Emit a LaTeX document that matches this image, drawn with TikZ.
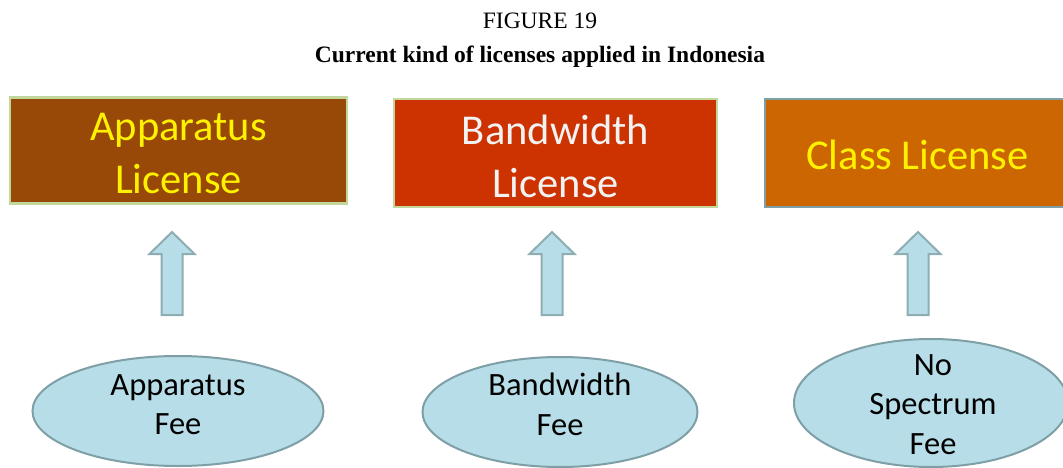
\documentclass[tikz,border=0pt]{standalone}
\usepackage{fontspec}
\setmainfont{Liberation Serif}
\newfontfamily\calibrifont{Carlito}
\usetikzlibrary{shapes.geometric}
\definecolor{boxA}{HTML}{984807}
\definecolor{boxB}{HTML}{CC3300}
\definecolor{boxC}{HTML}{CC6600}
\definecolor{greenedge}{HTML}{C3D69B}
\definecolor{blueedge}{HTML}{7F9FA6}
\definecolor{lightblue}{HTML}{B7DEE8}
\definecolor{arrowedge}{HTML}{8DADB3}
\definecolor{txtwhite}{HTML}{F2F2F2}
\tikzset{
  licbox/.style={draw, line width=2.5pt, minimum height=106pt, inner sep=0pt},
  lictext/.style={inner sep=0pt, align=center, font=\calibrifont\fontsize{42.5}{53}\selectfont},
  feeell/.style={ellipse, draw=blueedge, fill=lightblue, line width=2pt, inner sep=0pt},
  feetext/.style={inner sep=0pt, align=center, font=\calibrifont\fontsize{32.5}{39.5}\selectfont, text=black},
  uparrow/.style={draw=arrowedge, fill=lightblue, line width=2pt, line join=miter},
  ttl/.style={inner sep=0pt, font=\fontsize{23.5}{26}\selectfont}
}
\begin{document}
\begin{tikzpicture}[x=1pt,y=-1pt]
\useasboundingbox (0,0) rectangle (1063,468);
\clip (0,0) rectangle (1063,468);
\node[ttl] (fig) at (540,21) {FIGURE 19};
\node[ttl, font=\bfseries\fontsize{23.5}{26}\selectfont] (sub) at (540,57) {Current kind of licenses applied in Indonesia};

\node[licbox, draw=greenedge, fill=boxA, minimum width=337pt] (lic1) at (178.5,150.5) {};
\node[licbox, draw=greenedge, fill=boxB, minimum width=323pt, minimum height=108pt] (lic2) at (555.5,153) {};
\node[licbox, draw=blueedge, fill=boxC, minimum width=305pt, minimum height=108pt] (lic3) at (917.5,153) {};
\node[lictext, text=yellow] (lic1t) at (178.5,153.5) {Apparatus\\License};
\node[lictext, text=txtwhite] (lic2t) at (555.5,156) {Bandwidth\\License};
\node[lictext, text=yellow] (lic3t) at (917.5,155) {Class License};

\node[feeell, minimum width=291pt, minimum height=110pt] (fee1) at (178,411) {};
\node[feeell, minimum width=275pt, minimum height=110pt] (fee2) at (560,412) {};
\node[feeell, minimum width=274pt, minimum height=128pt] (fee3) at (931,403) {};
\node[feetext] (fee1t) at (178,404.5) {Apparatus\\Fee};
\node[feetext] (fee2t) at (560,404.5) {Bandwidth\\Fee};
\node[feetext] (fee3t) at (933,404.5) {No\\Spectrum\\Fee};

\foreach \cx/\n in {172/1, 552/2, 918/3}{
  \draw[uparrow] (\cx,232) -- (\cx+22.5,254) -- (\cx+10.5,254) -- (\cx+10.5,315)
    -- (\cx-10.5,315) -- (\cx-10.5,254) -- (\cx-22.5,254) -- cycle;
}
\end{tikzpicture}
\end{document}
